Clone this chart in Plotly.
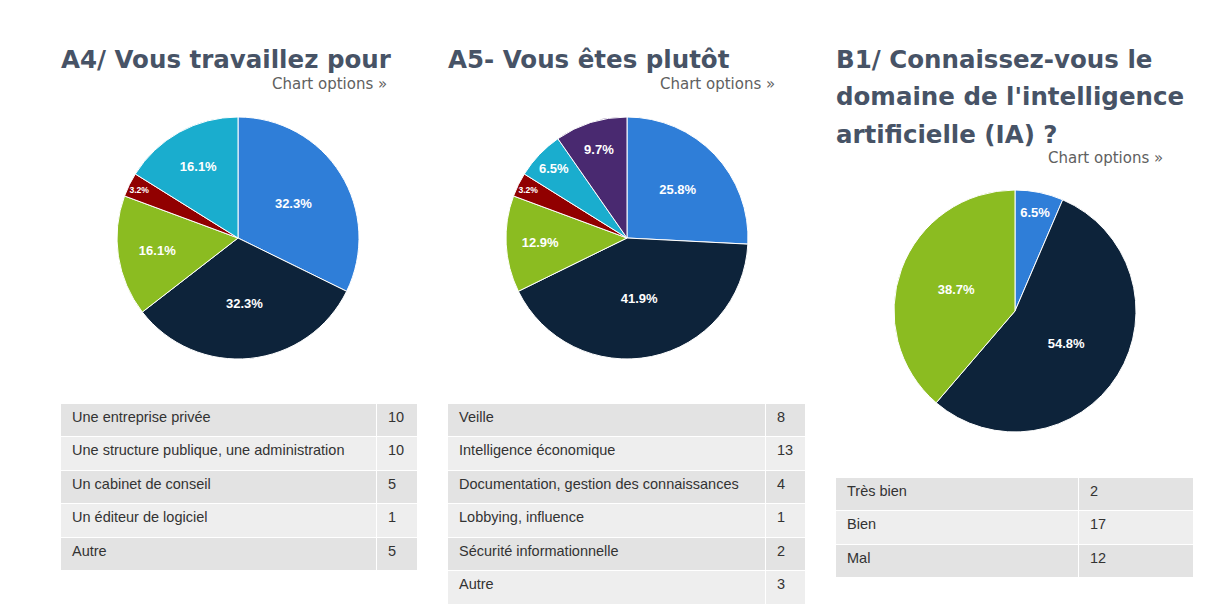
import plotly.graph_objects as go

W, H = 1214, 615
OFF = 8  # page body margin
FW, FH = W - 2 * OFF, H - 2 * OFF

colors = ["#2f7ed8", "#0d233a", "#8bbc21", "#910000", "#1aadce", "#492970"]

a4_title = ["A4/ Vous travaillez pour"]
a4_labels = ["Une entreprise privée", "Une structure publique, une administration",
             "Un cabinet de conseil", "Un éditeur de logiciel", "Autre"]
a4_values = [10, 10, 5, 1, 5]

a5_title = ["A5- Vous êtes plutôt"]
a5_labels = ["Veille", "Intelligence économique", "Documentation, gestion des connaissances",
             "Lobbying, influence", "Sécurité informationnelle", "Autre"]
a5_values = [8, 13, 4, 1, 2, 3]

b1_title = ["B1/ Connaissez-vous le", "domaine de l'intelligence", "artificielle (IA) ?"]
b1_labels = ["Très bien", "Bien", "Mal"]
b1_values = [2, 17, 12]

fig = go.Figure()

def px(x):
    return (x - OFF) / FW

def py(y):
    return 1 - (y - OFF) / FH

def add_pie(labels, values, cx, cy, r):
    fig.add_trace(go.Pie(
        labels=labels, values=values, sort=False, direction="clockwise", rotation=0,
        marker=dict(colors=colors[:len(values)], line=dict(color="white", width=1)),
        texttemplate="%{percent:.1%}", textposition="inside",
        insidetextorientation="horizontal",
        textfont=dict(family="Liberation Sans, Arial", size=13, color="white", weight="bold"),
        domain=dict(x=[px(cx - r), px(cx + r)], y=[py(cy + r), py(cy - r)]),
        showlegend=False, hoverinfo="label+value+percent",
    ))

add_pie(a4_labels, a4_values, 238, 238, 121)
add_pie(a5_labels, a5_values, 627, 238, 121)
add_pie(b1_labels, b1_values, 1015, 311, 121)

PAD = "\u00a0"

def add_table(labels, values, x0, x1, xdiv, ytop):
    n = len(labels)
    fills = ["#e3e3e3" if i % 2 == 0 else "#eeeeee" for i in range(n)]
    font = dict(family="Liberation Sans, Arial", size=14.5, color="#333333")
    lab = [PAD + s for s in labels]
    val = [PAD + str(v) for v in values]
    fig.add_trace(go.Table(
        columnwidth=[xdiv - x0, x1 - xdiv],
        header=dict(values=[lab[0], val[0]], height=33.5,
                    fill_color=fills[0], line=dict(color="white", width=1),
                    align="left", font=font),
        cells=dict(values=[lab[1:], val[1:]], height=33.5,
                   fill_color=[fills[1:], fills[1:]], line=dict(color="white", width=1),
                   align="left", font=font),
        domain=dict(x=[px(x0), px(x1)], y=[0, py(ytop)]),
    ))

add_table(a4_labels, a4_values, 60, 417, 376, 403)
add_table(a5_labels, a5_values, 447, 805, 765, 403)
add_table(b1_labels, b1_values, 835, 1193, 1078, 477)

title_font = dict(family="DejaVu Sans", size=24.5, color="#475366", weight="bold")
opt_font = dict(family="DejaVu Sans", size=15, color="#606060")

def add_title(lines, x, ybase):
    for i, line in enumerate(lines):
        fig.add_annotation(text=line, x=px(x), y=py(ybase + 37.5 * i), xanchor="left",
                           yanchor="middle", xref="paper", yref="paper", showarrow=False,
                           font=title_font, align="left")

add_title(a4_title, 59, 59.5)
add_title(a5_title, 446, 59.5)
add_title(b1_title, 834, 59.5)

for xr, yc in [(389, 84), (777, 84), (1165, 158)]:
    fig.add_annotation(text="Chart options »", x=px(xr), y=py(yc), xanchor="right",
                       yanchor="middle", xref="paper", yref="paper", showarrow=False,
                       font=opt_font)

fig.update_layout(width=FW, height=FH, margin=dict(l=0, r=0, t=0, b=0),
                  paper_bgcolor="white", plot_bgcolor="white")

fig.write_html("out.html")
